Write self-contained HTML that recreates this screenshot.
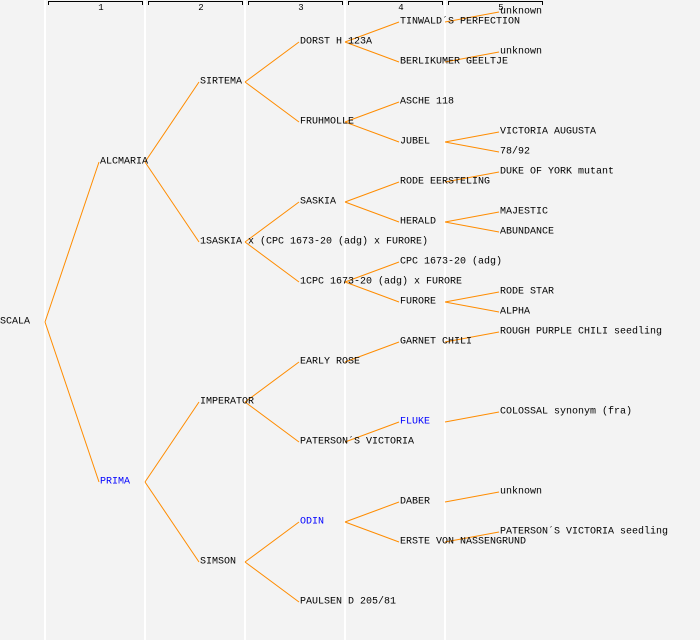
<!DOCTYPE html>
<html><head><meta charset="utf-8"><style>
html,body{margin:0;padding:0;background:#f3f3f3;}
svg{display:block;}
text{font-family:"Liberation Mono",monospace;font-size:10px;fill:#000;dominant-baseline:central;}
.b{fill:#0000ff;}
.h{font-size:9px;text-anchor:middle;}
</style></head><body>
<svg width="700" height="640" xmlns="http://www.w3.org/2000/svg">
<rect width="700" height="640" fill="#f3f3f3"/>
<g stroke="#ffffff" stroke-width="2">
<line x1="45" y1="0" x2="45" y2="640"/><line x1="145" y1="0" x2="145" y2="640"/>
<line x1="245" y1="0" x2="245" y2="640"/><line x1="345" y1="0" x2="345" y2="640"/>
<line x1="445" y1="0" x2="445" y2="640"/>
</g>
<g stroke="#000" stroke-width="1" fill="none">
<path d="M48.5 5V1.5H142.5V5"/><path d="M148.5 5V1.5H242.5V5"/><path d="M248.5 5V1.5H342.5V5"/><path d="M348.5 5V1.5H442.5V5"/><path d="M448.5 5V1.5H542.5V5"/>
</g>
<text class="h" x="101" y="8">1</text><text class="h" x="201" y="8">2</text><text class="h" x="301" y="8">3</text><text class="h" x="401" y="8">4</text><text class="h" x="501" y="8">5</text>
<g stroke="#ff8c00" stroke-width="1" fill="none">
<path d="M45 322L99 162M45 322L99 482"/>
<path d="M145 162L199 82M145 162L199 242M145 482L199 402M145 482L199 562"/>
<path d="M245 82L299 42M245 82L299 122M245 242L299 202M245 242L299 282M245 402L299 362M245 402L299 442M245 562L299 522M245 562L299 602"/>
<path d="M345 42L399 22M345 42L399 62M345 122L399 102M345 122L399 142M345 202L399 182M345 202L399 222M345 282L399 262M345 282L399 302M345 362L399 342M345 442L399 422M345 522L399 502M345 522L399 542"/>
<path d="M445 22L499 12M445 62L499 52M445 142L499 132M445 142L499 152M445 182L499 172M445 222L499 212M445 222L499 232M445 302L499 292M445 302L499 312M445 342L499 332M445 422L499 412M445 502L499 492M445 542L499 532"/>
</g>
<text x="0" y="322">SCALA</text>
<text x="100" y="162">ALCMARIA</text>
<text x="100" y="482" class="b">PRIMA</text>
<text x="200" y="82">SIRTEMA</text>
<text x="200" y="242">1SASKIA x (CPC 1673-20 (adg) x FURORE)</text>
<text x="200" y="402">IMPERATOR</text>
<text x="200" y="562">SIMSON</text>
<text x="300" y="42">DORST H 123A</text>
<text x="300" y="122">FRUHMOLLE</text>
<text x="300" y="202">SASKIA</text>
<text x="300" y="282">1CPC 1673-20 (adg) x FURORE</text>
<text x="300" y="362">EARLY ROSE</text>
<text x="300" y="442">PATERSON´S VICTORIA</text>
<text x="300" y="522" class="b">ODIN</text>
<text x="300" y="602">PAULSEN D 205/81</text>
<text x="400" y="22">TINWALD´S PERFECTION</text>
<text x="400" y="62">BERLIKUMER GEELTJE</text>
<text x="400" y="102">ASCHE 118</text>
<text x="400" y="142">JUBEL</text>
<text x="400" y="182">RODE EERSTELING</text>
<text x="400" y="222">HERALD</text>
<text x="400" y="262">CPC 1673-20 (adg)</text>
<text x="400" y="302">FURORE</text>
<text x="400" y="342">GARNET CHILI</text>
<text x="400" y="422" class="b">FLUKE</text>
<text x="400" y="502">DABER</text>
<text x="400" y="542">ERSTE VON NASSENGRUND</text>
<text x="500" y="12">unknown</text>
<text x="500" y="52">unknown</text>
<text x="500" y="132">VICTORIA AUGUSTA</text>
<text x="500" y="152">78/92</text>
<text x="500" y="172">DUKE OF YORK mutant</text>
<text x="500" y="212">MAJESTIC</text>
<text x="500" y="232">ABUNDANCE</text>
<text x="500" y="292">RODE STAR</text>
<text x="500" y="312">ALPHA</text>
<text x="500" y="332">ROUGH PURPLE CHILI seedling</text>
<text x="500" y="412">COLOSSAL synonym (fra)</text>
<text x="500" y="492">unknown</text>
<text x="500" y="532">PATERSON´S VICTORIA seedling</text>
</svg>
</body></html>
